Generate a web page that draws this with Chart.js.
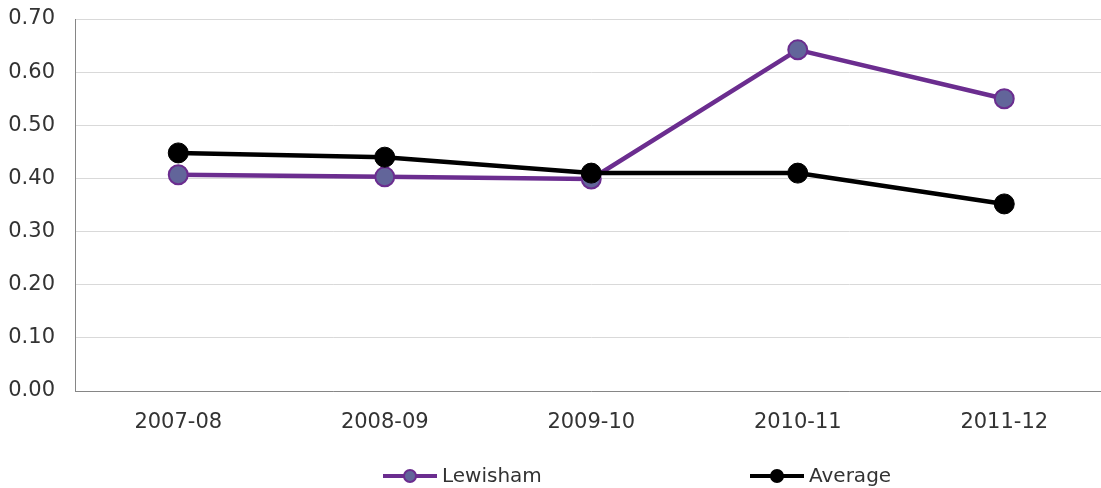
<!DOCTYPE html>
<html>
<head>
<meta charset="utf-8">
<script src="https://cdn.jsdelivr.net/npm/chart.js@4/dist/chart.umd.min.js"></script>
<style>
  html, body { margin: 0; padding: 0; background: #fff; overflow: hidden; }
  #wrap { width: 1119px; height: 488px; }
</style>
</head>
<body>
<div id="wrap"><canvas id="grafico"></canvas></div>
<script>
const anos = ["2007-08", "2008-09", "2009-10", "2010-11", "2011-12"];
const lewisham = [0.407, 0.403, 0.399, 0.642, 0.550];
const media = [0.448, 0.440, 0.410, 0.410, 0.352];
const nomes = ["Lewisham", "Average"];

const FONTE = "'DejaVu Sans', Verdana, sans-serif";
const COR_TEXTO = "#333333";

// legenda desenhada à mão (linha + marcador, estilo Excel)
const legendaExcel = {
  id: "legendaExcel",
  afterDraw(chart) {
    const ctx = chart.ctx;
    const posX = [383, 750];
    const y = 476;
    ctx.save();
    chart.data.datasets.forEach((ds, i) => {
      const x = posX[i];
      ctx.strokeStyle = ds.borderColor;
      ctx.lineWidth = 4;
      ctx.beginPath();
      ctx.moveTo(x, y);
      ctx.lineTo(x + 54, y);
      ctx.stroke();
      ctx.beginPath();
      ctx.arc(x + 27, y, 6, 0, Math.PI * 2);
      ctx.fillStyle = ds.pointBackgroundColor;
      ctx.fill();
      ctx.lineWidth = 2;
      ctx.strokeStyle = ds.pointBorderColor;
      ctx.stroke();
      ctx.fillStyle = COR_TEXTO;
      ctx.font = "20px " + FONTE;
      ctx.textBaseline = "middle";
      ctx.fillText(ds.label, x + 59, y + 1);
    });
    ctx.restore();
  },
};

new Chart(document.getElementById("grafico"), {
  type: "line",
  data: {
    labels: anos,
    datasets: [
      {
        label: nomes[0],
        data: lewisham,
        borderColor: "#6b2d8f",
        borderWidth: 4.5,
        pointRadius: 9.5,
        pointBackgroundColor: "#62659a",
        pointBorderColor: "#6b2d8f",
        pointBorderWidth: 2,
        tension: 0,
        order: 1,
      },
      {
        label: nomes[1],
        data: media,
        borderColor: "#000000",
        borderWidth: 4.5,
        pointRadius: 10,
        pointBackgroundColor: "#000000",
        pointBorderColor: "#000000",
        pointBorderWidth: 1,
        tension: 0,
        order: 0,
      },
    ],
  },
  options: {
    responsive: true,
    maintainAspectRatio: false,
    animation: false,
    layout: { padding: { top: 19, right: 0, bottom: 37, left: 0 } },
    plugins: { legend: { display: false }, tooltip: { enabled: false } },
    scales: {
      x: {
        offset: true,
        grid: { display: false, drawTicks: false },
        border: { color: "#868686", width: 1 },
        ticks: { color: COR_TEXTO, font: { family: FONTE, size: 21 }, padding: 19, maxRotation: 0 },
        afterFit: (s) => { s.height = 60; },
      },
      y: {
        min: 0,
        max: 0.7,
        grid: { color: "#d9d9d9", drawTicks: false },
        border: { color: "#868686", width: 1 },
        ticks: {
          stepSize: 0.1,
          color: COR_TEXTO,
          font: { family: FONTE, size: 21 },
          padding: 20,
          callback: (v) => Number(v).toFixed(2),
        },
        afterFit: (s) => {
          s.width = 75;
          s.paddingTop = 0;
          s.paddingBottom = 0;
        },
      },
    },
  },
  plugins: [legendaExcel],
});
</script>
</body>
</html>
